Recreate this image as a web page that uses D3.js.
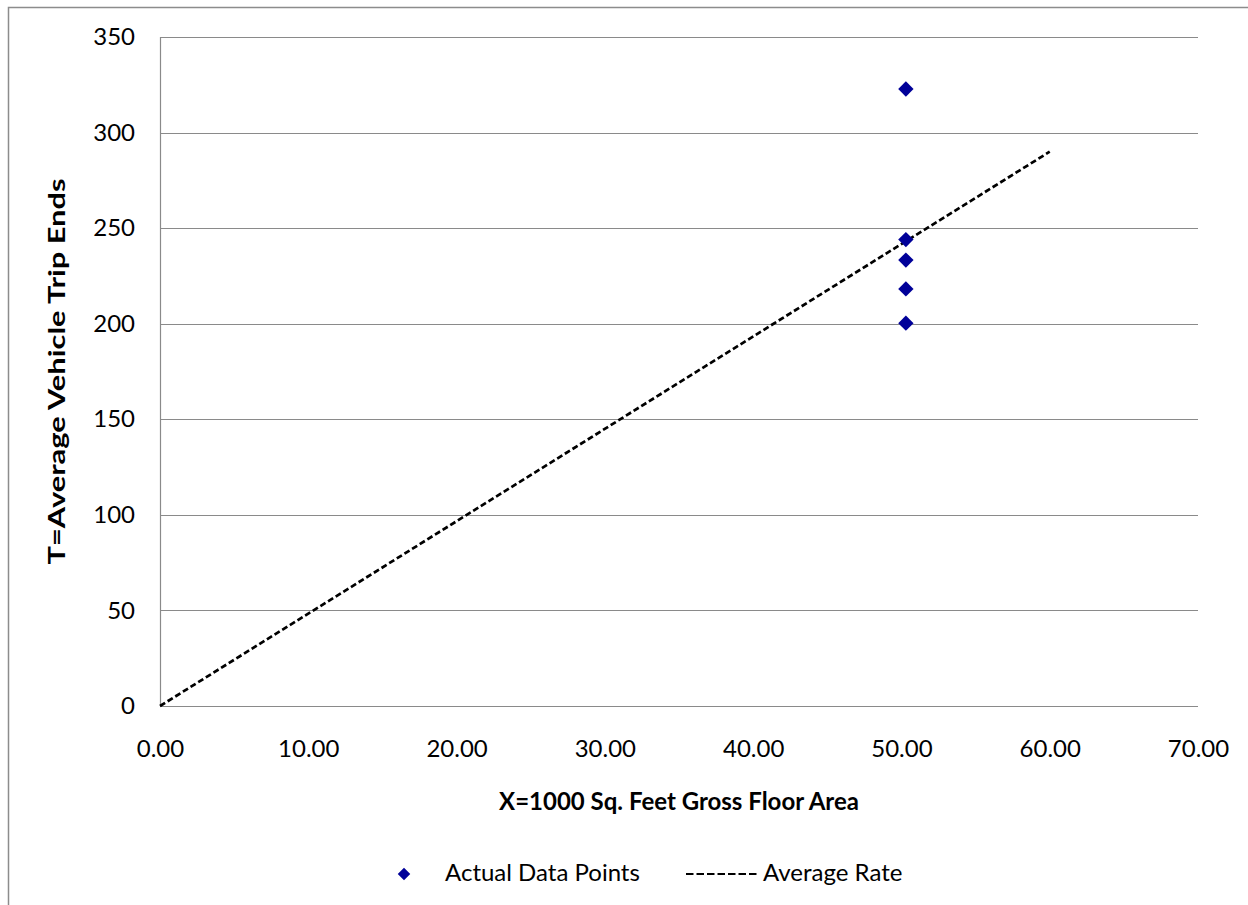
<!DOCTYPE html>
<html><head><meta charset="utf-8">
<script src="https://cdn.jsdelivr.net/npm/d3@7"></script>
<style>body{margin:0;background:#fff}svg{display:block}text{font-family:Lato,"Open Sans",sans-serif;fill:#000}</style>
</head><body>
<script>
const pointsX = [50.3, 50.3, 50.3, 50.3, 50.3];
const pointsY = [322.8, 244, 233.3, 218.2, 200.3];
const rateX = [0, 60];
const rateY = [0, 290];
const xTicks = [0, 10, 20, 30, 40, 50, 60, 70];
const yTicks = [0, 50, 100, 150, 200, 250, 300, 350];
const xTitle = "X=1000 Sq. Feet Gross Floor Area";
const yTitle = "T=Average Vehicle Trip Ends";
const legendLabels = ["Actual Data Points", "Average Rate"];

const W = 1248, H = 905;
const svg = d3.select("body").append("svg").attr("width", W).attr("height", H);
svg.append("rect").attr("x", 8.5).attr("y", 7.5).attr("width", W + 10).attr("height", H + 10)
  .attr("fill", "#fff").attr("stroke", "#8c8c8c").attr("stroke-width", 1.5);

const x = d3.scaleLinear().domain([0, 70]).range([160, 1198]);
const y = d3.scaleLinear().domain([0, 350]).range([706, 37]);

// gridlines
svg.append("g").selectAll("line").data(yTicks).join("line")
  .attr("x1", x(0)).attr("x2", x(70))
  .attr("y1", d => Math.round(y(d)) + 0.5).attr("y2", d => Math.round(y(d)) + 0.5)
  .attr("stroke", "#8a8a8a").attr("stroke-width", 1.2);
svg.append("line").attr("x1", x(0) + 0.5).attr("x2", x(0) + 0.5).attr("y1", y(350)).attr("y2", y(0))
  .attr("stroke", "#8a8a8a").attr("stroke-width", 1.2);

// axes labels
const yAxis = d3.axisLeft(y).tickValues(yTicks).tickSize(0).tickPadding(25).tickFormat(d3.format("d"));
const gy = svg.append("g").attr("transform", `translate(${x(0)},0)`).call(yAxis);
gy.select(".domain").remove();
gy.selectAll("text").style("font-size", "24px").attr("dy", "0.32em");

const xAxis = d3.axisBottom(x).tickValues(xTicks).tickSize(0).tickPadding(34).tickFormat(d3.format(".2f"));
const gx = svg.append("g").attr("transform", `translate(0,${y(0)})`).call(xAxis);
gx.select(".domain").remove();
gx.selectAll("text").style("font-size", "24px").attr("dy", "0.71em");

// titles
svg.append("text").attr("x", (x(0) + x(70)) / 2).attr("y", 810).attr("text-anchor", "middle")
  .style("font-size", "24px").style("font-weight", "bold").text(xTitle);
svg.append("text").attr("transform", `translate(65,${(y(0) + y(350)) / 2}) rotate(-90) scale(1.34,1)`)
  .attr("text-anchor", "middle").style("font-size", "23px").style("font-weight", "bold").text(yTitle);

// rate line
const line = d3.line().x(d => x(d[0])).y(d => y(d[1]));
svg.append("path").datum(rateX.map((v, i) => [v, rateY[i]])).attr("d", line)
  .attr("fill", "none").attr("stroke", "#000").attr("stroke-width", 2.7).attr("stroke-dasharray", "6,3");

// points
const diamond = d3.symbol().type(d3.symbolDiamond2).size(150);
svg.append("g").selectAll("path").data(pointsX.map((v, i) => [v, pointsY[i]])).join("path")
  .attr("d", diamond).attr("transform", d => `translate(${x(d[0])},${y(d[1])})`).attr("fill", "#000099");

// legend
const lg = svg.append("g");
lg.append("path").attr("d", d3.symbol().type(d3.symbolDiamond2).size(100)).attr("transform", "translate(404,874)").attr("fill", "#000099");
lg.append("text").attr("x", 445).attr("y", 873).attr("dy", "0.35em").style("font-size", "24px").text(legendLabels[0]);
lg.append("line").attr("x1", 686).attr("x2", 757).attr("y1", 874).attr("y2", 874)
  .attr("stroke", "#000").attr("stroke-width", 1.8).attr("stroke-dasharray", "7.5,3");
lg.append("text").attr("x", 763).attr("y", 873).attr("dy", "0.35em").style("font-size", "24px").text(legendLabels[1]);
</script>
</body></html>
